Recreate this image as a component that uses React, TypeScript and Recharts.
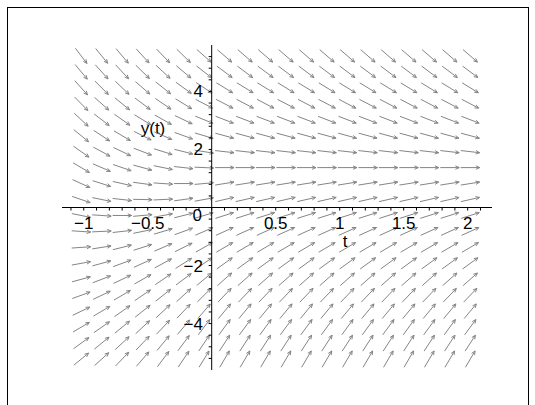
import React from "react"
import { ScatterChart, Scatter, XAxis, YAxis } from "recharts"

// grid of the direction field (t across, y up)
const tColumns = [-1.02, -0.86, -0.7, -0.54, -0.38, -0.22, -0.06, 0.1, 0.26, 0.42, 0.58, 0.74, 0.9, 1.06, 1.22, 1.38, 1.54, 1.7, 1.86, 2.02]
const yRows = [-5.225, -4.675, -4.125, -3.575, -3.025, -2.475, -1.925, -1.375, -0.825, -0.275, 0.275, 0.825, 1.375, 1.925, 2.475, 3.025, 3.575, 4.125, 4.675, 5.225]

// dy/dt, one list per column, bottom row first
const slopesT102 = [3.6, 3.2, 2.6, 2.1, 1.6, 1.2, 0.8, 0.3, -0.3, -0.9, -1.5, -2.0, -2.6, -3.1, -3.6, -4.1, -4.5, -4.9, -5.3, -5.8]
const slopesT086 = [4.0, 3.6, 3.1, 2.6, 2.1, 1.7, 1.2, 0.7, 0.2, -0.3, -0.9, -1.4, -1.9, -2.4, -2.9, -3.4, -3.9, -4.4, -4.9, -5.4]
const slopesT070 = [4.6, 4.1, 3.6, 3.1, 2.6, 2.1, 1.6, 1.1, 0.5, 0.0, -0.5, -1.0, -1.5, -2.1, -2.6, -3.1, -3.6, -4.2, -4.7, -5.2]
const slopesT054 = [5.1, 4.6, 4.1, 3.5, 3.0, 2.5, 2.0, 1.4, 0.9, 0.4, -0.1, -0.6, -1.2, -1.7, -2.2, -2.7, -3.3, -3.8, -4.3, -4.8]
const slopesT038 = [5.9, 5.3, 4.7, 4.1, 3.5, 3.0, 2.4, 1.9, 1.3, 0.8, 0.2, -0.3, -0.9, -1.4, -1.9, -2.5, -3.0, -3.5, -4.1, -4.6]
const slopesT022 = [6.6, 5.9, 5.2, 4.6, 4.0, 3.3, 2.8, 2.2, 1.6, 1.1, 0.6, 0.0, -0.5, -1.1, -1.6, -2.1, -2.7, -3.2, -3.7, -4.3]
const slopesT006 = [7.2, 6.5, 5.8, 5.1, 4.4, 3.7, 3.1, 2.5, 1.9, 1.3, 0.8, 0.4, -0.2, -0.7, -1.3, -1.8, -2.3, -2.9, -3.4, -3.9]
// from t = 0.1 on the columns look the same
const slopesSteady = [7.5, 6.8, 6.0, 5.3, 4.6, 3.9, 3.2, 2.6, 2.0, 1.4, 1.0, 0.7, 0.0, -0.5, -1.2, -1.7, -2.3, -2.7, -3.3, -3.8]

const columnSlopes = [
  slopesT102, slopesT086, slopesT070, slopesT054, slopesT038, slopesT022, slopesT006,
  slopesSteady, slopesSteady, slopesSteady, slopesSteady, slopesSteady, slopesSteady, slopesSteady,
  slopesSteady, slopesSteady, slopesSteady, slopesSteady, slopesSteady, slopesSteady,
]

const xTicks = [-1.1, -1.0, -0.9, -0.8, -0.7, -0.6, -0.5, -0.4, -0.3, -0.2, -0.1, 0, 0.1, 0.2, 0.3, 0.4, 0.5, 0.6, 0.7, 0.8, 0.9, 1.0, 1.1, 1.2, 1.3, 1.4, 1.5, 1.6, 1.7, 1.8, 1.9, 2.0, 2.1]
const xTickLabels = ["−1", "−0.5", "0.5", "1", "1.5", "2"]
const xLabelValues = [-1, -0.5, 0.5, 1, 1.5, 2]
const yTicks = [-5.2, -4.8, -4.4, -4.0, -3.6, -3.2, -2.8, -2.4, -2.0, -1.6, -1.2, -0.8, -0.4, 0, 0.4, 0.8, 1.2, 1.6, 2.0, 2.4, 2.8, 3.2, 3.6, 4.0, 4.4, 4.8, 5.2]
const yTickLabels = ["−4", "−2", "0", "2", "4"]
const yLabelValues = [-4, -2, 0, 2, 4]

const W = 535
const H = 405
const T_MIN = -1.17
const T_MAX = 2.19
const Y_MIN = -5.6
const Y_MAX = 5.6
const M = { top: 45, right: 43, bottom: 35, left: 62 }
const KX = (W - M.left - M.right) / (T_MAX - T_MIN)
const KY = (H - M.top - M.bottom) / (Y_MAX - Y_MIN)
const FONT = "'Liberation Sans', Arial, sans-serif"
const ARROW = "#858585"

const fieldPoints = tColumns.flatMap((t, j) =>
  yRows.map((y, i) => ({ t, y, slope: columnSlopes[j][i] }))
)

function Arrow(props: any) {
  const { cx, cy, payload } = props
  if (cx == null || cy == null) return null
  const sx = 1
  const sy = -payload.slope * KY / KX
  const n = Math.hypot(sx, sy)
  const ux = sx / n
  const uy = sy / n
  const half = 9.5
  const x1 = cx - ux * half
  const y1 = cy - uy * half
  const x2 = cx + ux * half
  const y2 = cy + uy * half
  const a = 0.42
  const hl = 4.2
  const bx = -ux
  const by = -uy
  const p1 = [x2 + hl * (bx * Math.cos(a) - by * Math.sin(a)), y2 + hl * (bx * Math.sin(a) + by * Math.cos(a))]
  const p2 = [x2 + hl * (bx * Math.cos(-a) - by * Math.sin(-a)), y2 + hl * (bx * Math.sin(-a) + by * Math.cos(-a))]
  return (
    <g stroke={ARROW} strokeWidth={1} fill="none">
      <line x1={x1} y1={y1} x2={x2} y2={y2} />
      <polyline points={`${p1[0]},${p1[1]} ${x2},${y2} ${p2[0]},${p2[1]}`} />
    </g>
  )
}

function XTick(props: any) {
  const { x, payload } = props
  const k = xLabelValues.findIndex((v) => Math.abs(v - payload.value) < 1e-6)
  if (k < 0) return null
  return (
    <text x={x} y={229} textAnchor="middle" fontFamily={FONT} fontSize={17} fill="#000">
      {xTickLabels[k]}
    </text>
  )
}

function YTick(props: any) {
  const { y, payload } = props
  const k = yLabelValues.findIndex((v) => Math.abs(v - payload.value) < 1e-6)
  if (k < 0) return null
  const isZero = payload.value === 0
  return (
    <text x={isZero ? 202 : 203} y={isZero ? y + 13.5 : y + 6} textAnchor="end" fontFamily={FONT} fontSize={17} fill="#000">
      {yTickLabels[k]}
    </text>
  )
}

export default function App() {
  const layer: React.CSSProperties = { position: "absolute", left: 0, top: 0 }
  return (
    <div style={{ position: "absolute", left: 0, top: 0, width: W, height: H, overflow: "hidden", background: "#fff" }}>
      <div style={{ position: "absolute", left: 7, top: 7, width: 520, height: 420, border: "1px solid #000" }} />

      {/* slope arrows */}
      <div style={layer}>
        <ScatterChart width={W} height={H} margin={M}>
          <XAxis type="number" dataKey="t" domain={[T_MIN, T_MAX]} allowDataOverflow hide />
          <YAxis type="number" dataKey="y" domain={[Y_MIN, Y_MAX]} allowDataOverflow hide />
          <Scatter data={fieldPoints} shape={Arrow} isAnimationActive={false} />
          <text x={345} y={247} textAnchor="middle" fontFamily={FONT} fontSize={17} fill="#000">t</text>
          <text x={153} y={134} textAnchor="middle" fontFamily={FONT} fontSize={17} fill="#000">y(t)</text>
        </ScatterChart>
      </div>

      {/* horizontal axis through y = 0 */}
      <div style={layer}>
        <ScatterChart width={W} height={240} margin={{ top: 45, right: M.right, bottom: 0, left: M.left }}>
          <XAxis
            type="number"
            dataKey="t"
            domain={[T_MIN, T_MAX]}
            allowDataOverflow
            ticks={xTicks}
            interval={0}
            tickSize={3}
            height={32.5}
            axisLine={{ stroke: "#000" }}
            tickLine={{ stroke: "#000" }}
            tick={<XTick />}
          />
          <YAxis type="number" dataKey="y" domain={[0, 1]} hide />
          <Scatter data={[]} isAnimationActive={false} />
        </ScatterChart>
      </div>

      {/* vertical axis through t = 0 */}
      <div style={layer}>
        <ScatterChart width={W} height={H} margin={{ top: M.top, right: 0, bottom: M.bottom, left: 171.7 }}>
          <XAxis type="number" dataKey="t" domain={[0, 1]} hide />
          <YAxis
            type="number"
            dataKey="y"
            domain={[Y_MIN, Y_MAX]}
            allowDataOverflow
            ticks={yTicks}
            interval={0}
            tickSize={3}
            width={40}
            axisLine={{ stroke: "#000" }}
            tickLine={{ stroke: "#000" }}
            tick={<YTick />}
          />
          <Scatter data={[]} isAnimationActive={false} />
        </ScatterChart>
      </div>
    </div>
  )
}
